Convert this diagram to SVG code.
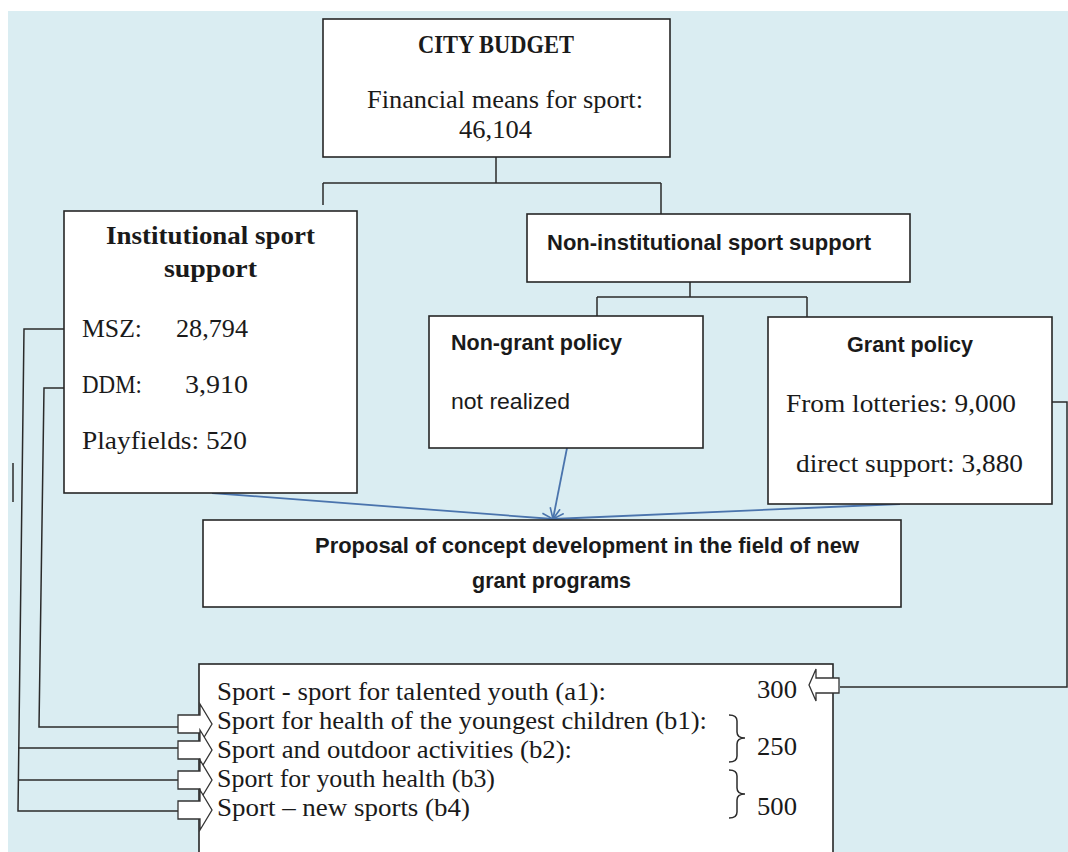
<svg xmlns="http://www.w3.org/2000/svg" width="1068" height="852" viewBox="0 0 1068 852">
<defs>
<style>
.box{fill:#ffffff;stroke:#262626;stroke-width:1.6}
.ln{fill:none;stroke:#2b2b2b;stroke-width:1.5}
.bl{fill:none;stroke:#4a74ad;stroke-width:1.8}
.ser{font-family:"Liberation Serif","Times New Roman",serif;font-size:25px;fill:#1a1a1a}
.serb{font-family:"Liberation Serif","Times New Roman",serif;font-size:25px;font-weight:bold;fill:#1a1a1a}
.sb{font-family:"Liberation Sans",Arial,sans-serif;font-size:22px;font-weight:bold;fill:#1a1a1a}
.sr{font-family:"Liberation Sans",Arial,sans-serif;font-size:22px;fill:#1a1a1a}
.arr{fill:#ffffff;stroke:#333333;stroke-width:1.3}
</style>
<marker id="open" viewBox="0 0 12 12" refX="11" refY="6" markerWidth="12" markerHeight="12" markerUnits="userSpaceOnUse" orient="auto">
<path d="M0 1 L11 6 L0 11" fill="none" stroke="#4a74ad" stroke-width="1.6"/>
</marker>
</defs>
<rect x="0" y="0" width="1068" height="852" fill="#ffffff"/>
<rect x="8" y="11" width="1060" height="841" fill="#daedf2"/>

<g id="connectors">
<path class="ln" d="M496 157 V183 M323 183 H661 M323 183 V205 M661 183 V214"/>
<path class="ln" d="M690 282 V297 M597 297 H807 M597 297 V316 M807 297 V317"/>
<path class="ln" d="M72 329 H24 L18 811 H178 M18 748 H178 M18 780 H178"/>
<path class="ln" d="M72 388 H44 L39 727 H178"/>
<path class="ln" d="M13 463 V502"/>
<path class="ln" d="M1047 402 H1067 V687 H840"/>
<line class="bl" x1="212" y1="493" x2="553" y2="519" marker-end="url(#open)"/>
<line class="bl" x1="567" y1="448" x2="553" y2="519" marker-end="url(#open)"/>
<line class="bl" x1="900" y1="504" x2="553" y2="519" marker-end="url(#open)"/>
</g>

<g id="city-budget">
<rect class="box" x="323" y="19" width="347" height="138"/>
<text class="serb" x="496" y="53" text-anchor="middle" textLength="156" lengthAdjust="spacingAndGlyphs">CITY BUDGET</text>
<text class="ser" x="367" y="108" textLength="276" lengthAdjust="spacingAndGlyphs">Financial means for sport:</text>
<text class="ser" x="459" y="138" textLength="73" lengthAdjust="spacingAndGlyphs">46,104</text>
</g>

<g id="institutional">
<rect class="box" x="64" y="211" width="293" height="282"/>
<text class="serb" x="106" y="244" textLength="209" lengthAdjust="spacingAndGlyphs">Institutional sport</text>
<text class="serb" x="164" y="277" textLength="93" lengthAdjust="spacingAndGlyphs">support</text>
<text class="ser" x="82" y="337" textLength="60" lengthAdjust="spacingAndGlyphs">MSZ:</text>
<text class="ser" x="176" y="337" textLength="72" lengthAdjust="spacingAndGlyphs">28,794</text>
<text class="ser" x="82" y="393" textLength="60" lengthAdjust="spacingAndGlyphs">DDM:</text>
<text class="ser" x="185" y="393" textLength="63" lengthAdjust="spacingAndGlyphs">3,910</text>
<text class="ser" x="82" y="449" textLength="165" lengthAdjust="spacingAndGlyphs">Playfields:  520</text>
</g>

<g id="non-institutional">
<rect class="box" x="527" y="214" width="383" height="68"/>
<text class="sb" x="547" y="250" textLength="324" lengthAdjust="spacingAndGlyphs">Non-institutional sport support</text>
</g>

<g id="non-grant">
<rect class="box" x="429" y="316" width="274" height="132"/>
<text class="sb" x="451" y="350" textLength="171" lengthAdjust="spacingAndGlyphs">Non-grant policy</text>
<text class="sr" x="451" y="409" textLength="119" lengthAdjust="spacingAndGlyphs">not realized</text>
</g>

<g id="grant">
<rect class="box" x="768" y="317" width="284" height="187"/>
<text class="sb" x="847" y="352" textLength="126" lengthAdjust="spacingAndGlyphs">Grant policy</text>
<text class="ser" x="786" y="412" textLength="230" lengthAdjust="spacingAndGlyphs">From lotteries: 9,000</text>
<text class="ser" x="796" y="472" textLength="227" lengthAdjust="spacingAndGlyphs">direct support: 3,880</text>
</g>

<g id="proposal">
<rect class="box" x="203" y="520" width="698" height="87"/>
<text class="sb" x="315" y="553" textLength="544" lengthAdjust="spacingAndGlyphs">Proposal of concept development in the field of new</text>
<text class="sb" x="472" y="588" textLength="159" lengthAdjust="spacingAndGlyphs">grant programs</text>
</g>

<g id="programs">
<rect class="box" x="199" y="664" width="634" height="200"/>
<text class="ser" x="217" y="700" textLength="389" lengthAdjust="spacingAndGlyphs">Sport - sport for talented youth (a1):</text>
<text class="ser" x="217" y="729" textLength="490" lengthAdjust="spacingAndGlyphs">Sport for health of the youngest children (b1):</text>
<text class="ser" x="217" y="758" textLength="355" lengthAdjust="spacingAndGlyphs">Sport and outdoor activities (b2):</text>
<text class="ser" x="217" y="787" textLength="278" lengthAdjust="spacingAndGlyphs">Sport for youth health (b3)</text>
<text class="ser" x="217" y="816" textLength="253" lengthAdjust="spacingAndGlyphs">Sport – new sports (b4)</text>
<text class="ser" x="757" y="698" textLength="40" lengthAdjust="spacingAndGlyphs">300</text>
<text class="ser" x="757" y="755" textLength="40" lengthAdjust="spacingAndGlyphs">250</text>
<text class="ser" x="757" y="815" textLength="40" lengthAdjust="spacingAndGlyphs">500</text>
<path class="ln" stroke-width="1.3" d="M729 715 Q737 715 737 721 V732 Q737 738 745 738 Q737 738 737 744 V756 Q737 762 729 762"/>
<path class="ln" stroke-width="1.3" d="M729 770 Q737 770 737 776 V788 Q737 794 745 794 Q737 794 737 800 V812 Q737 818 729 818"/>
<path class="arr" d="M839 678 H816 V669 L809 685 L816 701 V693 H839 Z"/>
<path class="arr" d="M178 715 H200 V704 L212 724 L200 744 V733 H178 Z"/>
<path class="arr" d="M178 741 H200 V730 L212 750 L200 770 V759 H178 Z"/>
<path class="arr" d="M178 771 H200 V760 L212 780 L200 800 V789 H178 Z"/>
<path class="arr" d="M178 801 H200 V790 L212 810 L200 830 V819 H178 Z"/>
</g>
</svg>
